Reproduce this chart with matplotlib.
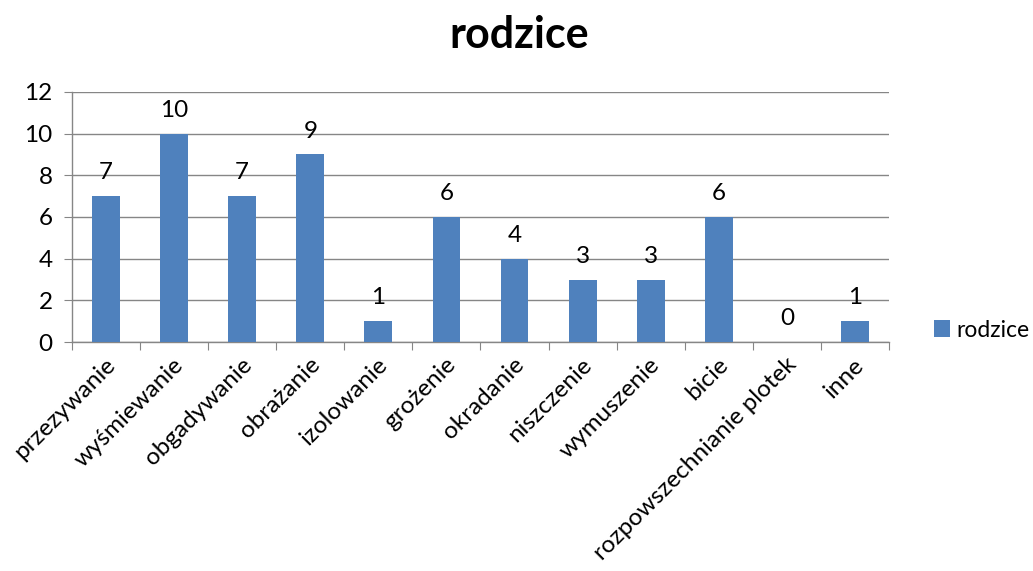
import matplotlib
matplotlib.use("Agg")
import matplotlib.pyplot as plt
import matplotlib.transforms as mtransforms
import numpy as np

categories = ["przezywanie", "wyśmiewanie", "obgadywanie", "obrażanie", "izolowanie",
              "grożenie", "okradanie", "niszczenie", "wymuszenie", "bicie",
              "rozpowszechnianie plotek", "inne"]
values = [7, 10, 7, 9, 1, 6, 4, 3, 3, 6, 0, 1]
series_name = "rodzice"
yticks = [0, 2, 4, 6, 8, 10, 12]

plt.rcParams['font.family'] = ['Lato', 'DejaVu Sans']
FS = 17.5

fig = plt.figure(figsize=(10.33, 5.71), dpi=100)
ax = fig.add_axes([0.0697, 0.401, 0.7909, 0.438])

x = np.arange(len(categories))
bars = ax.bar(x, values, width=0.41, color="#4F81BD", label=series_name, zorder=3)

for xi, v in zip(x, values):
    ax.text(xi, v + 0.62, str(v), ha="center", va="bottom", fontsize=FS, color="black")

ax.set_xlim(-0.5, len(categories) - 0.5)
ax.set_ylim(0, 12)
ax.set_yticks(yticks)
ax.set_yticklabels([str(t) for t in yticks], fontsize=FS)
ax.yaxis.grid(True, color="#868686", linewidth=1, zorder=0)
ax.set_axisbelow(True)

ax.set_xticks(np.arange(len(categories) + 1) - 0.5)
ax.set_xticklabels([])
ax.set_xticks(x, minor=True)
ax.set_xticklabels(categories, minor=True, rotation=45, ha="right", va="center",
                   rotation_mode="anchor", fontsize=FS)
ax.tick_params(axis="x", which="minor", length=0, pad=14)
ax.tick_params(axis="x", which="major", length=6, color="#868686", direction="out")
ax.tick_params(axis="y", length=6, color="#868686", direction="out", pad=8)
offset = mtransforms.ScaledTranslation(6 / 100, 0, fig.dpi_scale_trans)
for lab in ax.get_xticklabels(minor=True):
    lab.set_transform(lab.get_transform() + offset)

for s in ["top", "right"]:
    ax.spines[s].set_visible(False)
for s in ["left", "bottom"]:
    ax.spines[s].set_color("#868686")
    ax.spines[s].set_linewidth(1)

fig.text(0.503, 0.938, "rodzice", ha="center", va="center", fontsize=31, fontweight="bold")

leg = fig.legend(handles=[bars], labels=[series_name], loc="center left",
                 bbox_to_anchor=(0.904, 0.422), frameon=False, fontsize=16.5,
                 handlelength=0.7, handleheight=0.7, handletextpad=0.3,
                 borderpad=0, borderaxespad=0)

fig.savefig("out.png", dpi=100)
